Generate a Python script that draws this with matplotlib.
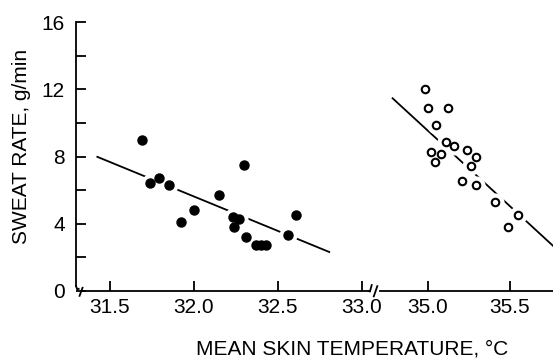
import matplotlib
matplotlib.use("Agg")
import matplotlib.pyplot as plt

plt.rcParams["font.family"] = ["Liberation Sans", "DejaVu Sans"]

# Datos
cool_x = [31.69, 31.74, 31.79, 31.85, 31.92, 32.00, 32.15, 32.30, 32.23,
          32.27, 32.24, 32.31, 32.37, 32.40, 32.43, 32.56, 32.61]
cool_y = [9.0, 6.4, 6.7, 6.3, 4.1, 4.8, 5.7, 7.5, 4.4,
          4.3, 3.8, 3.2, 2.75, 2.75, 2.75, 3.35, 4.5]

warm_x = [34.98, 35.00, 35.12, 35.05, 35.11, 35.16, 35.02, 35.08, 35.04,
          35.24, 35.29, 35.26, 35.21, 35.29, 35.41, 35.55, 35.49]
warm_y = [12.0, 10.9, 10.9, 9.85, 8.85, 8.6, 8.25, 8.15, 7.7,
          8.4, 8.0, 7.45, 6.55, 6.3, 5.3, 4.5, 3.8]

cool_fit_x = [31.42, 32.81]
cool_fit_y = [8.0, 2.3]
warm_fit_x = [34.78, 35.80]
warm_fit_y = [11.5, 2.35]

cool_ticks = [31.5, 32.0, 32.5, 33.0]
warm_ticks = [35.0, 35.5]
y_major = [0, 4, 8, 12, 16]
y_minor = [2, 6, 10, 14]

W, H = 553, 364
fig = plt.figure(figsize=(W / 100, H / 100), dpi=100)

bottom = (H - 291) / H
height = (291 - 22) / H
ax1 = fig.add_axes([76 / W, bottom, (372 - 76) / W, height])
ax2 = fig.add_axes([378 / W, bottom, (553 - 378) / W, height])

lw = 1.3


def dibujar(ax, xs, ys, fx, fy, relleno):
    ax.plot(fx, fy, color="black", lw=lw, zorder=1.5, solid_capstyle="butt")
    # halo blanco que corta la recta alrededor de cada punto
    ax.plot(xs, ys, "o", ms=12, color="white", mec="white", zorder=2)
    if relleno:
        ax.plot(xs, ys, "o", ms=6.5, color="black", mec="black", zorder=3)
    else:
        ax.plot(xs, ys, "o", ms=5.4, mfc="white", mec="black", mew=1.5, zorder=3)


dibujar(ax1, cool_x, cool_y, cool_fit_x, cool_fit_y, True)
dibujar(ax2, warm_x, warm_y, warm_fit_x, warm_fit_y, False)

ax1.set_xlim(31.298, 31.5 + (372 - 110) / 168)
ax2.set_xlim(35.0 - 50 / 164, 35.0 + 125 / 164)
for ax in (ax1, ax2):
    ax.set_ylim(0, 16)
    ax.spines["top"].set_visible(False)
    ax.spines["right"].set_visible(False)
    ax.patch.set_alpha(0)
    for s in ax.spines.values():
        s.set_linewidth(lw)
    ax.tick_params(which="both", direction="in", length=7, width=lw)
    ax.tick_params(labelsize=15, pad=5)

ax2.spines["left"].set_visible(False)
ax2.set_yticks([])

ax1.set_yticks(y_major)
ax1.set_yticks(y_minor, minor=True)
ax1.tick_params(axis="y", pad=8)
ax1.set_xticks(cool_ticks)
ax1.set_xticklabels([f"{t:.1f}" for t in cool_ticks])
ax2.set_xticks(warm_ticks)
ax2.set_xticklabels([f"{t:.1f}" for t in warm_ticks])

# ejes cortados
ax1.spines["left"].set_bounds(0.3, 16)
ax1.spines["bottom"].set_bounds(31.34, 33.045)
ax2.spines["bottom"].set_bounds(34.71, ax2.get_xlim()[1])

k = dict(color="black", lw=lw, clip_on=False, transform=ax1.transAxes)
ax1.plot([0.0, 0.004, 0.009], [0.019, 0.006, 0.008], **k)
ax1.plot([0.012, 0.022], [-0.018, 0.012], **k)
ax1.plot([0.988, 0.993, 0.999], [0.0, -0.002, 0.022], **k)
ax1.plot([1.006, 1.018], [-0.02, 0.018], **k)

fig.text(22 / W, (H - 146) / H, "SWEAT RATE, g/min", rotation=90,
         ha="center", va="center", fontsize=15)
fig.text(352 / W, (H - 349) / H, "MEAN SKIN TEMPERATURE, °C",
         ha="center", va="center", fontsize=15)

fig.savefig("out.png", dpi=100)
